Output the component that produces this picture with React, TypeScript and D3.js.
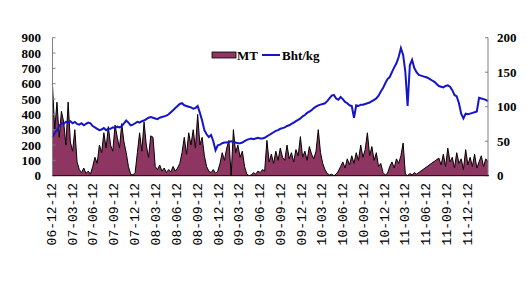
import React from "react";
import * as d3 from "d3";

const tickLabels = [
  "06-12-12", "07-03-12", "07-06-12", "07-09-12", "07-12-12", "08-03-12", "08-06-12",
  "08-09-12", "08-12-12", "09-03-12", "09-06-12", "09-09-12", "09-12-12", "10-03-12",
  "10-06-12", "10-09-12", "10-12-12", "11-03-12", "11-06-12", "11-09-12", "11-12-12",
];
const leftTicks = [0, 100, 200, 300, 400, 500, 600, 700, 800, 900];
const rightTicks = [0, 50, 100, 150, 200];
const seriesNames = ["MT", "Bht/kg"];

// MT, one value about every 10 days from 2006-12-12 (null = missing)
const mtValues: (number | null)[] = [
  590, 300, 480, 250, 420, 350, 200, 480, 220, 160,
  300, 90, 40, 20, 50, 15, 30, 10, 60, 120,
  80, 200, 150, 280, 180, 320, 200, 160, 330, 250,
  180, 340, 220, 150, 60, 10, 5, 20, 150, 280,
  160, 350, 200, 120, 260, 250, 60, 40, 70, 30,
  50, 20, 40, 25, 60, 30, 50, 80, 150, 250,
  140, 280, 200, 300, 180, 400, 200, 250, 130, 60,
  30, 20, 40, 15, 30, 80, 150, 100, 180, 230,
  0, 300, 150, 200, 120, 160, 60, 10, 0, 5,
  20, 10, 30, 20, 40, 30, 230, 90, 140, 80,
  160, 100, 180, 120, 100, 200, 110, 150, 90, 170,
  130, 255, 120, 160, 100, 190, 140, 110, 160, 300,
  150, 80, 40, 15, 5, 10, 0, 10, 30, 60,
  90, 50, 110, 70, 130, 80, 150, 100, 200, 120,
  170, 280, 130, 190, 100, 150, 60, 80, 20, 5,
  15, 60, 90, 50, 110, 80, 130, 213, 10, 0,
  15, 5, 20, 10, null, null, null, null, null, null,
  null, null, null, 115, 70, 140, 60, 180, 90, 120,
  50, 150, 80, 110, 40, 170, 70, 120, 60, 140,
  50, 90, 130, 60, 110, 90,
];

// Bht/kg, same dates
const bhtValues: number[] = [
  56, 62, 66, 72, 76, 75, 78, 77, 79, 76,
  78, 75, 74, 76, 73, 75, 77, 76, 72, 70,
  68, 66, 67, 69, 66, 68, 68, 70, 69, 71,
  70, 72, 76, 80, 77, 73, 74, 76, 78, 77,
  79, 80, 82, 84, 85, 84, 83, 82, 84, 85,
  86, 87, 89, 92, 95, 98, 101, 104, 105, 102,
  101, 100, 99, 97, 98, 101, 91, 80, 66, 60,
  56, 59, 50, 37, 44, 45, 47, 48, 48, 49,
  50, 49, 48, 47, 47, 48, 50, 52, 53, 54,
  53, 54, 55, 54, 54, 55, 57, 59, 61, 63,
  65, 66, 68, 69, 70, 72, 73, 75, 77, 79,
  81, 83, 86, 88, 91, 93, 95, 98, 100, 102,
  103, 104, 105, 108, 112, 116, 117, 112, 110, 114,
  111, 107, 105, 102, 101, 84, 102, 101, 103, 103,
  104, 105, 106, 108, 110, 112, 116, 122, 127, 134,
  140, 143, 150, 157, 163, 172, 185, 175, 150, 101,
  160, 168, 156, 150, 146, 145, 144, 143, 142, 140,
  138, 136, 133, 130, 129, 128, 130, 131, 129, 124,
  117, 115, 105, 90, 83, 90, 89, 90, 91, 92,
  93, 113, 112, 111, 110, 108,
];

const startDate = new Date(2006, 11, 12);
const stepHours = 235.2;
const parse = d3.timeParse("%y-%m-%d");

export default function App() {
  const W = 530, H = 285;
  const left = 52.5, right = 488, top = 37.7, bottom = 175.7;
  const dates = bhtValues.map((_, i) => d3.timeHour.offset(startDate, Math.round(i * stepHours)));
  const x = d3.scaleTime().domain([dates[0], dates[dates.length - 1]]).range([left, right]);
  const yL = d3.scaleLinear().domain([0, 900]).range([bottom, top]);
  const yR = d3.scaleLinear().domain([0, 200]).range([bottom, top]);

  const mt = mtValues
    .map((v, i) => ({ d: dates[i], v }))
    .filter((p) => p.v !== null) as { d: Date; v: number }[];
  const area = d3.area<{ d: Date; v: number }>().x((p) => x(p.d)).y0(bottom).y1((p) => yL(p.v));
  const mtLine = d3.line<{ d: Date; v: number }>().x((p) => x(p.d)).y((p) => yL(p.v));
  const bhtLine = d3.line<number>().x((_, i) => x(dates[i])).y((v) => yR(v));

  const fontNum = "'Liberation Serif', serif";
  const plum = "#8E3562";
  const blue = "#1414C8";

  return (
    <div style={{ position: "absolute", left: 0, top: 0 }}>
      <svg width={W} height={H} style={{ display: "block", background: "#fff" }}>
        <path d={area(mt) || ""} fill={plum} />
        <path d={mtLine(mt) || ""} fill="none" stroke="#000" strokeWidth={1} />
        <path d={bhtLine(bhtValues) || ""} fill="none" stroke={blue} strokeWidth={2} />

        {/* left axis */}
        <line x1={left} x2={left} y1={top} y2={bottom} stroke="#808080" />
        {leftTicks.map((t) => (
          <g key={"l" + t}>
            <line x1={left} x2={left + 3} y1={yL(t)} y2={yL(t)} stroke="#808080" />
            <text x={41} y={yL(t) + 4.5} textAnchor="end" fontFamily={fontNum} fontWeight="bold" fontSize={13}>
              {t}
            </text>
          </g>
        ))}
        {/* right axis */}
        <line x1={right} x2={right} y1={top} y2={bottom} stroke="#808080" />
        {rightTicks.map((t) => (
          <g key={"r" + t}>
            <line x1={right - 3} x2={right} y1={yR(t)} y2={yR(t)} stroke="#808080" />
            <text x={497} y={yR(t) + 4.5} textAnchor="start" fontFamily={fontNum} fontWeight="bold" fontSize={13}>
              {t}
            </text>
          </g>
        ))}
        {/* bottom axis */}
        <line x1={left} x2={right + 1} y1={bottom} y2={bottom} stroke="#000" />
        {tickLabels.map((lab) => {
          const tx = x(parse(lab) as Date);
          return (
            <text
              key={lab}
              transform={`translate(${tx},183) rotate(-90)`}
              textAnchor="end"
              dominantBaseline="central"
              fontFamily="'Liberation Mono', monospace"
              fontSize={13}
            >
              {lab}
            </text>
          );
        })}

        {/* legend */}
        <rect x={212} y={52} width={24} height={6} fill={plum} stroke="#000" strokeWidth={0.8} />
        <text x={237} y={60} fontFamily={fontNum} fontWeight="bold" fontSize={13}>{seriesNames[0]}</text>
        <line x1={262} x2={280} y1={55} y2={55} stroke={blue} strokeWidth={2} />
        <text x={282} y={60} fontFamily={fontNum} fontWeight="bold" fontSize={13}>{seriesNames[1]}</text>
      </svg>
    </div>
  );
}
